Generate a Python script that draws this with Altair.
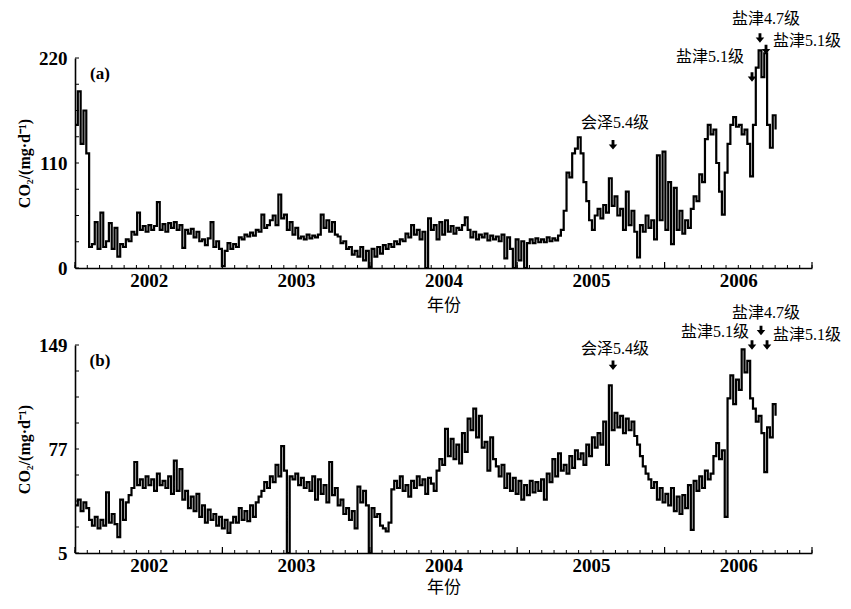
import altair as alt
import pandas as pd

# ---------------- data (weekly readings from 2002-01-01) ----------------
START = 2002.0
WEEK = 7 / 365.25

co2_a = [
    150, 185, 130, 165, 120,
    22, 25, 48, 20, 58, 22, 28, 47, 20, 42,
    12, 25, 22, 30, 28, 38, 35, 58, 40, 44,
    38, 45, 40, 44, 69, 40, 46, 38, 47, 42,
    48, 40, 45, 21, 40, 36, 41, 32, 38, 28,
    30, 24, 31, 48, 22, 28, 20, 2, 18, 26,
    20, 25, 22, 32, 30, 35, 33, 37, 34, 40,
    38, 56, 42, 45, 50, 55, 45, 77, 52, 56,
    40, 48, 35, 42, 31, 33, 30, 35, 31, 34,
    32, 35, 56, 42, 50, 38, 48, 35, 33, 26,
    28, 20, 22, 14, 18, 12, 22, 8, 18, 1,
    20, 12, 22, 15, 24, 20, 25, 22, 28, 25,
    30, 28, 36, 32, 45, 35, 40, 30, 38, 0,
    52, 40, 45, 30, 48, 35, 50, 38, 44, 36,
    42, 40, 45, 53, 40, 32, 38, 30, 35, 32,
    36, 29, 34, 30, 33, 28, 35, 10, 32, 20,
    0, 30, 8, 28, 0, 26, 30, 26, 31, 27,
    30, 27, 32, 28, 31, 29, 34, 40, 60, 100,
    95, 120, 125, 137, 120, 90, 70, 50, 40, 55,
    62, 52, 66, 58, 94, 65, 75, 55, 62, 40,
    80, 45, 60, 38, 11, 45, 38, 55, 42, 50,
    30, 118, 50, 122, 40, 90, 25, 84, 40, 60,
    36, 50, 42, 62, 75, 70, 98, 90, 135, 150,
    140, 145, 110, 80, 56, 100, 130, 150, 158, 148,
    150, 140, 145, 130, 96, 150, 210, 228, 200, 225,
    150, 126, 160, 145,
]

co2_b = [
    38, 42, 34, 40, 36,
    28, 24, 30, 22, 28, 24, 47, 26, 32, 25,
    16, 42, 28, 40, 45, 50, 68, 52, 56, 50,
    58, 52, 56, 48, 60, 52, 55, 50, 58, 46,
    69, 48, 63, 42, 48, 36, 44, 34, 46, 30,
    38, 26, 35, 28, 32, 24, 30, 22, 28, 19,
    26, 30, 26, 36, 28, 34, 27, 38, 30, 40,
    44, 48, 54, 50, 58, 54, 66, 58, 79, 62,
    5, 58, 56, 60, 52, 57, 50, 54, 48, 58,
    42, 56, 46, 52, 40, 68, 45, 50, 38, 42,
    32, 36, 28, 34, 22, 51, 40, 48, 38, 5,
    36, 30, 32, 24, 22, 20, 26, 49, 55, 50,
    58, 48, 52, 44, 55, 50, 58, 52, 56, 46,
    57, 53, 48, 62, 70, 66, 91, 72, 84, 70,
    80, 67, 88, 75, 98, 90, 105, 85, 100, 78,
    82, 62, 85, 70, 65, 58, 66, 50, 60, 48,
    57, 46, 55, 42, 52, 45, 55, 47, 54, 48,
    56, 42, 60, 54, 70, 58, 74, 62, 66, 60,
    72, 64, 76, 70, 74, 66, 80, 72, 85, 78,
    88, 80, 96, 66, 121, 90, 102, 92, 100, 88,
    98, 90, 96, 86, 80, 72, 65, 60, 56, 50,
    54, 42, 50, 40, 46, 38, 50, 34, 44, 32,
    45, 36, 52, 21, 55, 48, 58, 50, 62, 56,
    60, 72, 81, 70, 76, 30, 112, 128, 108, 125,
    118, 146, 130, 138, 112, 105, 96, 100, 88, 61,
    92, 85, 108, 100,
]

year_labels = [2002, 2003, 2004, 2005, 2006]
yticks_a = [0, 110, 220]
yticks_b = [5, 77, 149]

# earthquake annotations: (label, time [year], value)
events_a_text = [("会泽5.4级", 2005.664, 152), ("盐津5.1级", 2006.308, 221),
                 ("盐津4.7级", 2006.688, 261), ("盐津5.1级", 2006.966, 238)]
events_a_arrow = [(2005.650, 129), (2006.593, 200), (2006.647, 241), (2006.688, 229)]
events_b_text = [("会泽5.4级", 2005.664, 146), ("盐津5.1级", 2006.342, 158),
                 ("盐津4.7级", 2006.688, 171), ("盐津5.1级", 2006.966, 156)]
events_b_arrow = [(2005.650, 135), (2006.593, 149), (2006.654, 159), (2006.695, 149)]

SERIF = "Liberation Serif"
CJK = "Liberation Serif, Noto Sans CJK SC"
W = 737
ARROW = "M-0.3,-1 L0.3,-1 L0.3,-0.1 L0.9,-0.1 L0,1 L-0.9,-0.1 L-0.3,-0.1 Z"


def panel(values, ydomain, yticks, tag, ev_text, ev_arrow, height, tpad):
    df = pd.DataFrame({"t": [START + i * WEEK for i in range(len(values))], "v": values})
    months = pd.DataFrame({"t": [2002 + k / 12 for k in range(61)]})
    yrs = pd.DataFrame({"t": [2002 + k for k in range(6)]})
    step = (ydomain[1] - ydomain[0]) / 8
    yminor = pd.DataFrame({"v": [ydomain[0] + k * step for k in range(9)]})
    txt = pd.DataFrame(ev_text, columns=["label", "t", "v"])
    arr = pd.DataFrame(ev_arrow, columns=["t", "v"])

    X = alt.X("t:Q",
              scale=alt.Scale(domain=[2002, 2007], nice=False, zero=False),
              axis=alt.Axis(values=[y + 0.5 for y in year_labels],
                            labelExpr="floor(datum.value)",
                            ticks=False, grid=False, domainColor="black",
                            domainWidth=1.6, labelFont=SERIF, labelFontSize=19,
                            labelFontWeight="bold", labelColor="black",
                            labelPadding=3, title="年份",
                            titleFont="Noto Sans CJK SC", titleFontSize=17,
                            titleFontWeight="normal", titleColor="black",
                            titlePadding=tpad))
    Y = alt.Y("v:Q",
              scale=alt.Scale(domain=ydomain, nice=False, zero=False),
              axis=alt.Axis(values=yticks, ticks=False, grid=False,
                            domainColor="black", domainWidth=1.6,
                            labelFont=SERIF, labelFontSize=19,
                            labelFontWeight="bold", labelColor="black",
                            labelPadding=8, title="CO₂/(mg·d⁻¹)",
                            titleFont=SERIF, titleFontSize=16,
                            titleFontWeight="bold", titleColor="black",
                            titlePadding=6))

    line = alt.Chart(df).mark_line(color="black", strokeWidth=2.2,
                                   interpolate="step-after").encode(x=X, y=Y)
    mtick = alt.Chart(months).mark_rule(color="black", strokeWidth=1).encode(
        x=X, y=alt.value(height), y2=alt.value(height - 3))
    ytick = alt.Chart(yrs).mark_rule(color="black", strokeWidth=1.2).encode(
        x=X, y=alt.value(height), y2=alt.value(height - 6))
    ymin = alt.Chart(yminor).mark_rule(color="black", strokeWidth=1).encode(
        y=Y, x=alt.value(0), x2=alt.value(4))
    labels = alt.Chart(txt).mark_text(font=CJK, fontSize=16, color="black",
                                      align="center", baseline="middle").encode(
        x=X, y=Y, text="label:N")
    arrows = alt.Chart(arr).mark_point(shape=ARROW, filled=True, color="black",
                                       opacity=1, size=90, strokeWidth=0).encode(x=X, y=Y)
    tagm = alt.Chart(pd.DataFrame({"tag": [tag]})).mark_text(
        font=SERIF, fontSize=17, fontWeight="bold", color="black").encode(
        x=alt.value(25), y=alt.value(16), text="tag:N")
    return alt.layer(line, mtick, ytick, ymin, labels, arrows, tagm).properties(
        width=W, height=height)


top = panel(co2_a, [0, 220], yticks_a, "(a)", events_a_text, events_a_arrow, 210, 7)
bottom = panel(co2_b, [5, 149], yticks_b, "(b)", events_b_text, events_b_arrow, 208, 4)

chart = alt.vconcat(top, bottom, spacing=77, bounds="flush").properties(
    padding={"left": 8, "top": 2, "right": 2, "bottom": 0},
    background="white",
).configure_view(stroke=None)

chart.save("out.html", embed_options={"renderer": "svg", "actions": False})
